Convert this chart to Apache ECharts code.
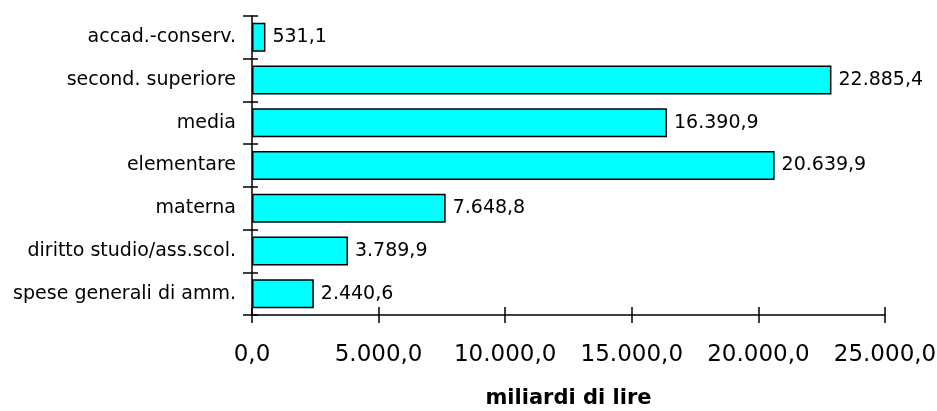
<!DOCTYPE html>
<html>
<head>
<meta charset="utf-8">
<script src="https://cdn.jsdelivr.net/npm/echarts@6/dist/echarts.min.js"></script>
<style>
  html, body { margin: 0; padding: 0; background: #fff; }
  #chart { width: 937px; height: 411px; }
</style>
</head>
<body>
<div id="chart"></div>
<script>
// dati (dall'alto verso il basso)
var categorie = ['accad.-conserv.', 'second. superiore', 'media', 'elementare',
                 'materna', 'diritto studio/ass.scol.', 'spese generali di amm.'];
var valori = [531.1, 22885.4, 16390.9, 20639.9, 7648.8, 3789.9, 2440.6];
var tickValori = [0, 5000, 10000, 15000, 20000, 25000];
var titoloAsse = 'miliardi di lire';

var FONT = 'DejaVu Sans';

// formato italiano: 22.885,4
function fmt(v) {
  var p = v.toFixed(1).split('.');
  return p[0].replace(/\B(?=(\d{3})+(?!\d))/g, '.') + ',' + p[1];
}

var myChart = echarts.init(document.getElementById('chart'));

var option = {
  animation: false,
  backgroundColor: '#fff',
  grid: { left: 252, right: 52, top: 16, bottom: 96, containLabel: false, outerBoundsMode: 'none' },
  xAxis: [{
    type: 'value',
    min: tickValori[0],
    max: tickValori[tickValori.length - 1],
    interval: tickValori[1] - tickValori[0],
    splitLine: { show: false },
    axisLine: { show: true, lineStyle: { color: '#000', width: 1.5 } },
    axisTick: { show: true, inside: false, length: 8, lineStyle: { color: '#000', width: 1.5 } },
    axisLabel: {
      color: '#000', fontFamily: FONT, fontSize: 23, margin: 29,
      formatter: function (v) { return fmt(v); }
    },
    name: titoloAsse,
    nameLocation: 'middle',
    nameGap: 73,
    nameTextStyle: { color: '#000', fontFamily: FONT, fontSize: 21, fontWeight: 'bold' }
  }, {
    // tacche interne (attraversano l'asse)
    type: 'value',
    position: 'bottom',
    min: tickValori[0],
    max: tickValori[tickValori.length - 1],
    interval: tickValori[1] - tickValori[0],
    splitLine: { show: false },
    axisLine: { show: false },
    axisTick: { show: true, inside: true, length: 8, lineStyle: { color: '#000', width: 1.5 } },
    axisLabel: { show: false }
  }],
  yAxis: [{
    type: 'category',
    data: categorie,
    inverse: true,
    axisLine: { show: true, lineStyle: { color: '#000', width: 1.5 } },
    axisTick: { show: true, inside: false, length: 9, lineStyle: { color: '#000', width: 1.5 } },
    axisLabel: { color: '#000', fontFamily: FONT, fontSize: 19, margin: 16 }
  }, {
    type: 'category',
    data: categorie,
    inverse: true,
    position: 'left',
    axisLine: { show: false },
    axisTick: { show: true, inside: true, length: 6, lineStyle: { color: '#000', width: 1.5 } },
    axisLabel: { show: false }
  }],
  series: [{
    type: 'bar',
    data: valori,
    xAxisIndex: 0,
    yAxisIndex: 0,
    barWidth: 29,
    itemStyle: { color: '#00ffff', borderColor: '#000', borderWidth: 1.5 },
    label: {
      show: true,
      position: 'right',
      distance: 7,
      color: '#000',
      fontFamily: FONT,
      fontSize: 19,
      formatter: function (p) { return fmt(p.value); }
    }
  }]
};

myChart.setOption(option);
</script>
</body>
</html>
